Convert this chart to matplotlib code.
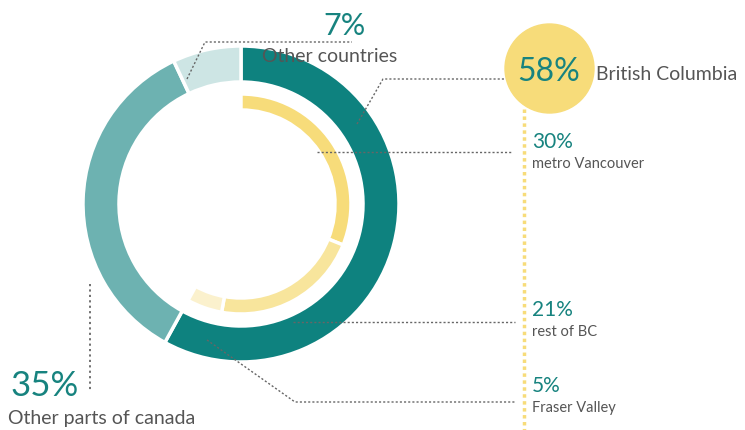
import matplotlib.pyplot as plt

# outer ring: share of total
outer_labels = ['British Columbia', 'Other parts of canada', 'Other countries']
outer_values = [58, 35, 7]
outer_colors = ['#0e827f', '#6db2b1', '#cde5e4']

# inner ring: split of British Columbia
inner_labels = ['metro Vancouver', 'rest of BC', 'Fraser Valley']
inner_values = [30, 21, 5]
inner_colors = ['#f7dc7a', '#f8e59c', '#fbf1cd']

teal = '#17837f'
grey = '#555555'
dot = '#666666'

plt.rcParams['font.family'] = ['Lato', 'DejaVu Sans']

fig = plt.figure(figsize=(7.45, 4.31), dpi=100)
ax = fig.add_axes([0, 0, 1, 1])

cx, cy = 241, 205

ax.pie(outer_values, colors=outer_colors, radius=158, center=(cx, cy),
       startangle=-90, counterclock=True,
       wedgeprops=dict(width=36, edgecolor='white', linewidth=2.5))

# inner ring spans the same arc as the BC slice
bc = outer_values[0]
scale = bc / sum(inner_values)
inner_fr = [v * scale for v in inner_values] + [100 - bc]
wedges, _ = ax.pie(inner_fr, colors=inner_colors + ['none'], radius=110, center=(cx, cy),
                   startangle=-90, counterclock=True,
                   wedgeprops=dict(width=16, edgecolor='white', linewidth=2.5))
wedges[-1].set_edgecolor('none')

ax.set_xlim(0, 745)
ax.set_ylim(431, 0)
ax.set_aspect('equal')
ax.axis('off')

ls = (0, (1.5, 1.5))
# leader lines
ax.plot([357, 383, 510], [125, 80, 80], color=dot, lw=1, ls=ls)
ax.plot([317, 512], [153, 153], color=dot, lw=1, ls=ls)
ax.plot([293, 515], [323, 323], color=dot, lw=1, ls=ls)
ax.plot([207, 295, 515], [341, 403, 403], color=dot, lw=1, ls=ls)
ax.plot([187, 205, 352], [80, 43, 43], color=dot, lw=1, ls=ls)
ax.plot([90, 90], [285, 393], color=dot, lw=1.3, ls=(0, (1.2, 1.8)))
ax.plot([524, 524], [110, 431], color='#f7dc7a', lw=2.5, ls=(0, (1, 1)))

# BC bubble
ax.add_patch(plt.Circle((549.5, 69.5), 44.5, color='#f7dc7a', zorder=3))
ax.text(549, 72, f'{outer_values[0]}%', color=teal, fontsize=23,
        ha='center', va='center', zorder=4)
ax.text(596, 74, outer_labels[0], color=grey, fontsize=14, ha='left', va='center')

# other countries
ax.text(345, 26, f'{outer_values[2]}%', color=teal, fontsize=22, ha='center', va='center')
ax.text(262, 57, outer_labels[2], color=grey, fontsize=14, ha='left', va='center')

# other parts of canada
ax.text(10, 386, f'{outer_values[1]}%', color=teal, fontsize=25, ha='left', va='center')
ax.text(8, 419, outer_labels[1], color=grey, fontsize=14, ha='left', va='center')

# BC breakdown
ys = [142, 310, 386]
for lab, v, y in zip(inner_labels, inner_values, ys):
    ax.text(532, y, f'{v}%', color=teal, fontsize=15, ha='left', va='center')
    ax.text(532, y + 22, lab, color=grey, fontsize=10.5, ha='left', va='center')

fig.savefig('out.png', dpi=100)
